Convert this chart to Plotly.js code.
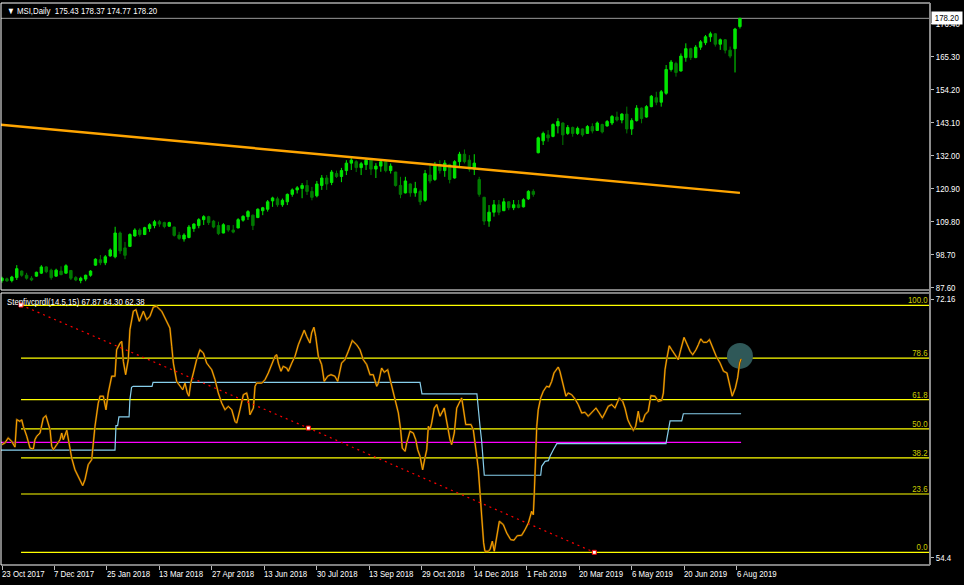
<!DOCTYPE html>
<html><head><meta charset="utf-8">
<script src="https://cdn.plot.ly/plotly-3.0.1.min.js"></script>
<style>html,body{margin:0;padding:0;background:#000;}#chart{width:964px;height:585px;}</style>
</head><body><div id="chart"></div>
<script>
// ---------- DATA ----------
const symbolTitle = '\u25BC MSI,Daily  175.43 178.37 174.77 178.20';
const indicatorTitle = 'Stepfivcprdl(14.5,15) 67.87 64.30 62.38';
const barsPerCandle = 3; // each candle below aggregates 3 daily bars
const priceOpen  = [90.0,90.6,90.0,91.0,93.2,91.8,90.8,91.5,92.5,94.6,93.5,91.5,93.2,92.5,93.4,91.0,90.0,90.5,91.8,95.2,97.0,96.0,98.3,98.0,106.0,101.0,101.5,105.0,107.0,105.5,107.5,108.5,109.8,109.5,108.3,108.0,105.3,104.0,104.5,107.5,108.5,110.5,111.5,110.0,108.5,106.0,108.5,107.0,107.7,110.3,111.5,112.0,111.2,113.5,114.0,116.8,117.5,115.5,116.5,119.0,120.5,121.0,122.0,120.0,118.5,122.0,124.5,123.0,126.0,125.0,127.0,129.5,130.0,128.0,129.0,130.5,127.5,128.5,130.0,127.0,126.5,122.0,119.5,122.5,119.5,120.0,117.0,125.5,124.0,129.0,127.0,129.0,124.5,130.0,132.5,130.5,127.5,124.0,118.0,110.0,113.0,115.5,113.5,116.5,114.5,115.5,114.8,117.5,120.0,133.0,137.0,139.0,138.5,142.0,143.0,139.5,141.5,139.5,141.0,139.5,141.8,140.5,142.5,142.0,143.0,145.0,144.0,146.0,141.0,143.8,148.0,145.0,148.5,151.5,150.0,153.0,161.0,163.0,160.5,165.0,168.0,165.0,168.5,170.0,172.0,173.0,169.5,171.0,167.5,168.0,175.43];
const priceHigh  = [91.3,91.0,91.6,95.2,93.4,92.6,91.5,93.0,95.2,94.8,94.0,94.0,94.8,95.5,93.5,91.5,91.3,92.0,93.5,97.5,98.6,98.6,100.8,108.1,106.5,103.0,105.9,107.6,107.6,108.1,109.3,110.4,110.4,109.8,109.8,108.1,106.4,105.9,108.7,109.3,111.0,112.0,111.8,110.4,109.8,109.3,108.7,108.7,111.0,112.0,113.7,112.2,114.3,114.8,117.1,118.2,118.2,117.6,119.3,121.0,121.8,122.8,123.8,121.5,123.5,125.5,125.5,127.2,127.0,127.9,130.5,131.2,130.5,129.9,131.2,130.5,129.5,130.5,130.5,129.4,126.6,124.9,124.9,122.7,123.2,120.6,127.2,129.4,129.9,130.5,130.5,129.3,130.5,133.3,134.1,132.2,132.5,124.9,118.2,115.4,117.1,117.1,117.7,116.7,117.1,117.1,117.7,120.4,120.7,138.4,140.1,140.6,142.9,144.6,143.2,142.3,141.8,141.8,141.2,142.3,142.9,143.5,142.8,144.0,145.7,146.8,146.3,148.5,144.6,149.0,148.2,149.0,152.4,153.5,154.1,162.5,164.2,163.6,166.4,169.8,168.3,169.2,170.9,172.6,173.7,173.2,171.4,171.2,168.7,175.0,178.37];
const priceLow   = [89.3,89.6,89.4,90.2,91.3,90.3,89.8,91.3,92.2,92.5,90.3,91.3,91.8,92.3,90.2,89.8,89.1,89.8,91.3,95.0,95.2,95.2,98.0,97.5,99.0,97.2,101.4,104.8,104.8,105.3,106.4,107.6,108.1,107.6,108.1,104.8,103.7,103.1,104.2,106.4,107.6,108.7,108.7,107.6,105.3,105.9,106.4,105.9,107.6,109.8,110.4,107.0,111.0,112.0,113.2,114.8,114.8,114.8,115.4,118.2,119.3,117.7,118.8,117.0,118.0,120.5,120.5,122.1,124.5,123.1,125.5,127.2,126.5,125.5,127.2,125.5,124.5,126.6,126.4,126.0,121.6,117.7,119.3,118.2,118.2,115.4,116.5,122.7,123.5,126.0,124.9,122.7,124.3,128.3,129.4,126.6,125.5,118.2,108.7,108.1,111.5,112.0,113.4,113.7,113.7,114.3,114.6,117.1,118.2,132.8,135.6,136.7,138.2,139.5,135.6,139.0,138.4,139.0,138.4,139.3,139.5,140.3,139.5,141.8,142.3,143.5,142.9,139.5,139.0,143.5,142.9,144.8,148.3,149.0,148.5,152.5,160.3,158.6,160.3,163.6,164.2,164.8,167.6,169.2,170.3,168.7,167.6,166.4,164.8,160.0,174.77];
const priceClose = [90.8,89.9,91.2,94.0,91.8,90.8,90.2,92.8,94.6,93.0,91.0,93.5,92.0,95.0,90.8,90.2,90.8,91.8,93.2,97.2,96.0,98.0,100.3,106.0,100.0,98.5,105.5,107.0,105.5,107.8,108.8,109.8,109.0,108.2,109.5,105.2,104.2,105.3,108.0,109.0,110.5,111.5,109.5,108.0,105.8,108.8,107.0,106.3,110.5,111.6,113.2,108.5,114.0,114.5,116.5,117.8,115.5,117.0,119.0,120.5,121.2,122.0,120.0,118.0,122.5,124.5,122.5,126.5,125.0,127.0,129.5,130.5,128.0,129.3,130.5,127.5,128.5,130.0,127.0,128.5,122.0,119.0,123.5,119.5,121.0,116.5,126.0,123.5,129.0,127.0,129.5,124.0,130.0,132.5,130.0,127.5,129.5,119.0,110.0,113.0,115.5,113.0,116.5,114.5,115.5,114.6,117.2,120.0,119.0,138.0,139.5,138.0,142.5,143.5,139.0,141.5,139.5,141.2,139.0,141.8,140.3,143.0,140.0,143.5,145.2,144.0,146.0,141.0,143.8,148.0,144.5,148.5,152.0,150.0,153.5,161.0,163.5,160.0,165.5,168.0,165.0,168.5,170.3,172.0,173.0,169.5,171.0,167.5,165.5,174.6,178.20];
const lastClose = 178.20;
const trendBars = [-1, 450];
const trendPrice = [142.4, 119.5];
const priceTickStart = 87.6, priceTickStep = 11.1;

const dateTickBars = [0,32,64,96,128,160,192,224,256,288,320,352,384,416,448];
const dateTickLabels = ['23 Oct 2017','7 Dec 2017','25 Jan 2018','13 Mar 2018','27 Apr 2018','13 Jun 2018','30 Jul 2018','13 Sep 2018','29 Oct 2018','14 Dec 2018','1 Feb 2019','20 Mar 2019','6 May 2019','20 Jun 2019','6 Aug 2019'];

// indicator pane
const fiboLevels = [0, 23.6, 38.2, 50.0, 61.8, 78.6, 100.0];
const levelStartBar = 11.6;
const oscillator = [[0,43.6],[1.8,44.3],[3.8,46.3],[5.9,44.9],[7.9,42.6],[9.0,53.7],[11.0,53.0],[12.0,53.7],[13.0,51.0],[15.1,47.0],[17.1,42.2],[19.1,41.8],[20.1,45.6],[21.2,47.0],[23.2,48.3],[25.2,54.4],[26.8,55.3],[28.2,52.3],[29.3,49.6],[30.3,42.9],[31.3,41.5],[33.4,43.6],[35.4,45.6],[36.4,48.3],[37.4,45.6],[39.5,49.4],[40.4,45.6],[41.5,41.5],[42.5,38.2],[44.5,33.4],[47.6,28.7],[49.2,27.0],[50.6,29.4],[52.6,35.5],[54.7,37.5],[55.7,45.6],[56.7,51.0],[58.7,60.4],[59.8,63.2],[61.8,63.2],[63.4,57.7],[64.8,64.5],[66.9,71.3],[68.9,71.3],[69.9,82.0],[72.0,84.7],[73.0,85.4],[74.0,77.3],[75.4,71.9],[77.0,78.0],[78.0,90.1],[80.1,97.6],[81.7,98.2],[83.7,93.5],[86.2,97.6],[88.2,94.2],[90.2,95.5],[92.3,99.3],[94.3,99.6],[97.4,97.6],[100.4,93.5],[102.4,90.8],[103.5,83.4],[104.5,76.6],[106.5,69.2],[108.5,67.2],[110.2,65.8],[111.6,68.5],[113.0,64.5],[114.0,63.2],[115.1,68.5],[116.7,72.6],[118.7,78.0],[120.7,82.0],[122.8,80.7],[124.8,76.6],[127.9,73.9],[129.9,69.9],[131.9,64.5],[134.0,60.4],[136.0,57.7],[138.0,59.1],[140.1,57.7],[142.1,53.0],[143.1,52.3],[145.1,57.7],[147.2,63.8],[149.2,64.5],[150.2,61.8],[151.2,55.7],[153.3,58.4],[154.3,67.2],[155.3,68.5],[158.4,68.5],[160.4,69.9],[162.4,72.6],[164.5,76.0],[166.5,79.4],[167.5,80.0],[168.5,76.6],[170.1,73.3],[171.5,75.3],[173.6,74.6],[174.6,73.3],[176.7,76.6],[178.7,79.4],[180.7,84.0],[182.8,87.4],[184.3,89.9],[185.8,87.4],[187.8,84.7],[188.8,88.8],[190.2,91.1],[191.3,87.4],[192.9,79.4],[194.9,76.0],[196.5,69.2],[198.6,71.3],[200.6,71.9],[203.0,71.3],[204.7,69.2],[207.1,76.6],[209.1,78.0],[211.2,81.4],[213.6,85.7],[216.3,84.0],[218.3,82.0],[220.3,78.0],[222.4,76.0],[224.4,71.9],[226.4,71.9],[228.5,67.2],[229.5,68.5],[231.5,74.6],[233.1,72.9],[235.2,73.9],[237.2,68.5],[239.7,61.8],[241.7,56.4],[243.1,49.6],[244.1,42.2],[245.8,40.9],[246.8,44.3],[248.8,49.0],[250.8,48.3],[252.3,45.6],[253.5,41.5],[254.9,38.9],[256.5,33.4],[257.9,38.2],[259.0,41.5],[260.0,51.0],[261.0,49.6],[262.0,52.3],[263.6,58.4],[265.1,59.8],[267.1,55.1],[269.7,58.4],[271.2,52.3],[273.2,45.6],[274.2,43.6],[275.8,48.3],[277.3,58.4],[279.3,61.1],[280.3,62.5],[281.3,58.4],[282.8,51.7],[286.0,51.7],[287.4,49.6],[289.5,38.9],[290.5,33.4],[291.5,24.0],[292.5,13.2],[293.7,3.8],[294.5,0.4],[296.5,0.4],[297.6,1.1],[299.0,4.5],[300.2,0.4],[301.6,6.5],[303.3,12.6],[305.7,11.2],[307.8,7.8],[310.2,5.1],[312.2,4.9],[314.2,6.7],[316.9,6.9],[318.9,9.1],[321.0,11.9],[323.0,16.6],[324.0,15.2],[324.6,24.0],[325.4,41.5],[326.1,51.0],[327.0,57.7],[328.5,62.5],[330.1,65.2],[332.1,67.2],[333.7,66.9],[335.2,69.2],[336.6,72.6],[339.2,75.0],[340.2,73.3],[342.3,67.2],[343.9,63.2],[345.3,64.5],[347.4,63.8],[349.4,62.1],[351.4,59.8],[353.5,56.4],[355.5,56.7],[357.5,55.1],[359.6,56.4],[362.2,58.4],[364.2,56.4],[366.1,54.4],[367.7,56.4],[369.7,59.1],[371.8,59.8],[373.8,58.4],[376.4,62.5],[378.5,61.1],[379.9,58.4],[381.6,53.7],[383.0,51.7],[385.0,49.4],[386.4,51.0],[388.0,57.1],[389.1,53.0],[390.7,53.0],[392.1,55.7],[394.1,57.1],[395.7,63.4],[398.2,63.2],[400.2,61.1],[402.3,61.5],[403.3,64.5],[404.3,73.9],[405.3,78.0],[406.9,83.6],[408.4,82.0],[410.4,80.0],[412.4,78.0],[413.9,82.0],[415.9,87.0],[417.9,84.0],[419.6,81.4],[421.2,80.0],[423.2,82.0],[424.6,84.0],[426.1,86.4],[427.7,85.0],[429.8,85.0],[431.4,86.1],[433.4,82.7],[435.5,79.4],[437.9,76.6],[440.0,73.3],[442.1,72.6],[443.7,67.9],[445.3,63.2],[447.2,66.5],[448.6,70.6],[449.8,76.6],[450.7,78.3]];
const stepLine = [[-1,41.4],[68.9,41.4],[69.5,51.3],[70.5,51.3],[71.3,54.8],[77.5,54.8],[78.0,61.8],[79.0,66.8],[80.0,67.2],[91.5,67.2],[92.1,68.8],[254.9,68.8],[256.1,64.1],[289.6,64.1],[291.5,51.0],[292.5,45.0],[294.1,31.2],[328.5,31.2],[329.1,34.8],[331.2,36.8],[333.2,37.1],[334.2,38.9],[336.2,41.5],[338.3,44.0],[404.9,44.0],[406.1,48.0],[407.4,53.2],[414.5,53.2],[415.5,56.1],[450.7,56.1]];
const signalBars = [-1, 450.7];
const signalValue = [44.5, 44.5];
const redLineBars = [11.6, 186.8, 361.2];
const redLineValues = [100.1, 50.3, 0];
const highlightBar = [450];
const highlightValue = [79.5];
const paneScaleTicks = [102.5, -2.1];
const paneScaleLabels = ['72.16', '54.4'];

// ---------- CHART ----------
const FONT = 'Liberation Sans, Arial, sans-serif';
const FS = 9;
const NARROW = 0.87; // the reference uses a narrow terminal font
const candleX = priceOpen.map((_, i) => i * barsPerCandle);

const traces = [
  {type:'candlestick', x:candleX, open:priceOpen, high:priceHigh, low:priceLow, close:priceClose,
   xaxis:'x', yaxis:'y', whiskerwidth:0,
   increasing:{line:{color:'#00e600', width:1}, fillcolor:'#00e600'},
   decreasing:{line:{color:'#007a00', width:1}, fillcolor:'#007a00'},
   hoverinfo:'skip', showlegend:false},
  {type:'scatter', mode:'lines', x:trendBars, y:trendPrice, xaxis:'x', yaxis:'y',
   line:{color:'#ffa500', width:2.5}, hoverinfo:'skip', showlegend:false},
  {type:'scatter', mode:'markers', x:highlightBar, y:highlightValue, xaxis:'x', yaxis:'y2',
   marker:{color:'#2f5858', size:26, line:{width:0}}, hoverinfo:'skip', showlegend:false},
  {type:'scatter', mode:'lines', x:signalBars, y:signalValue, xaxis:'x', yaxis:'y2',
   line:{color:'#ff00ff', width:1.3}, hoverinfo:'skip', showlegend:false},
  {type:'scatter', mode:'lines', x:stepLine.map(p=>p[0]), y:stepLine.map(p=>p[1]), xaxis:'x', yaxis:'y2',
   line:{color:'#87ceeb', width:1.2}, hoverinfo:'skip', showlegend:false},
  {type:'scatter', mode:'lines', x:oscillator.map(p=>p[0]), y:oscillator.map(p=>p[1]), xaxis:'x', yaxis:'y2',
   line:{color:'#6e4600', width:2.0}, hoverinfo:'skip', showlegend:false},
  {type:'scatter', mode:'lines', x:oscillator.map(p=>p[0]), y:oscillator.map(p=>p[1]), xaxis:'x', yaxis:'y2',
   line:{color:'#ffa500', width:1.0}, hoverinfo:'skip', showlegend:false},
  {type:'scatter', mode:'lines+markers', x:redLineBars, y:redLineValues, xaxis:'x', yaxis:'y2',
   line:{color:'#ff0000', width:1.2, dash:'2px,4px'},
   marker:{symbol:'square', size:4, color:'#ffffff', line:{color:'#ff0000', width:1}},
   hoverinfo:'skip', showlegend:false}
];

const shapes = [];
fiboLevels.forEach(v => shapes.push({type:'line', xref:'x', yref:'y2', x0:levelStartBar, x1:565.9, y0:v, y1:v,
  line:{color:'#ffff00', width:1.2}, layer:'below'}));
shapes.push({type:'line', xref:'paper', yref:'y', x0:0, x1:1, y0:lastClose, y1:lastClose, line:{color:'#9a9a9a', width:1}, layer:'below'});
shapes.push({type:'rect', xref:'paper', yref:'y domain', x0:0, x1:1, y0:0, y1:1, line:{color:'#ffffff', width:1}});
shapes.push({type:'rect', xref:'paper', yref:'y2 domain', x0:0, x1:1, y0:0, y1:1, line:{color:'#ffffff', width:1}});
shapes.push({type:'line', xref:'paper', yref:'paper', x0:1, x1:1, y0:0, y1:1, line:{color:'#8c8c8c', width:2}});

const annotations = [
  {xref:'paper', yref:'paper', x:0.004, y:1, xanchor:'left', yanchor:'top', align:'left', yshift:-1, showarrow:false,
   text:symbolTitle, font:{family:FONT, size:FS, color:'#ffffff'}},
  {xref:'paper', yref:'y2 domain', x:0.004, y:1, xanchor:'left', yanchor:'top', align:'left', yshift:-2, showarrow:false,
   text:indicatorTitle, font:{family:FONT, size:FS, color:'#ffffff'}},
  {xref:'paper', yref:'y', x:1, y:lastClose, xanchor:'left', yanchor:'middle', xshift:1, showarrow:false,
   text:lastClose.toFixed(2), bgcolor:'#ffffff', borderpad:1, font:{family:FONT, size:FS, color:'#000000'}}
];
fiboLevels.forEach(v => annotations.push({xref:'paper', yref:'y2', x:0.999, y:v, xanchor:'right', yanchor:'bottom',
  align:'right', yshift:-2, xshift:1, showarrow:false, text:v.toFixed(1), font:{family:FONT, size:FS, color:'#cccc00'}}));
dateTickBars.forEach((b, i) => annotations.push({xref:'x', yref:'paper', x:b, y:0, xanchor:'left', yanchor:'top',
  align:'left', xshift:-2, yshift:-2, showarrow:false, text:dateTickLabels[i], font:{family:FONT, size:FS, color:'#ffffff'}}));

const layout = {
  width:964, height:585,
  paper_bgcolor:'#000000', plot_bgcolor:'#000000',
  margin:{l:1, r:34, t:3, b:20},
  showlegend:false,
  xaxis:{domain:[0,1], anchor:'y2', range:[-0.61, 565.9], showgrid:false, zeroline:false,
    tickmode:'array', tickvals:dateTickBars, showticklabels:false, ticks:'outside', ticklen:4,
    tickcolor:'#bbbbbb', rangeslider:{visible:false}, showline:false, fixedrange:true},
  yaxis:{domain:[0.4893, 1], anchor:'x', side:'right', range:[86.83, 183.36], showgrid:false, zeroline:false,
    tickmode:'linear', tick0:priceTickStart, dtick:priceTickStep, tickformat:'.2f',
    ticks:'outside', ticklen:3, tickcolor:'#bbbbbb', tickfont:{family:FONT, size:FS, color:'#ffffff'}},
  yaxis2:{domain:[0, 0.484], anchor:'x', side:'right', range:[-5.14, 104.98], showgrid:false, zeroline:false,
    tickmode:'array', tickvals:paneScaleTicks, ticktext:paneScaleLabels,
    ticks:'outside', ticklen:3, tickcolor:'#bbbbbb', tickfont:{family:FONT, size:FS, color:'#ffffff'}},
  shapes:shapes, annotations:annotations
};

Plotly.newPlot('chart', traces, layout, {staticPlot:true, displayModeBar:false}).then(gd => {
  // condense every text to the narrow width of the terminal font
  gd.querySelectorAll('svg text').forEach(t => {
    const w = t.getComputedTextLength();
    if (w > 0) {
      t.setAttribute('textLength', (w * NARROW).toFixed(1));
      t.setAttribute('lengthAdjust', 'spacingAndGlyphs');
    }
  });
});
</script></body></html>
